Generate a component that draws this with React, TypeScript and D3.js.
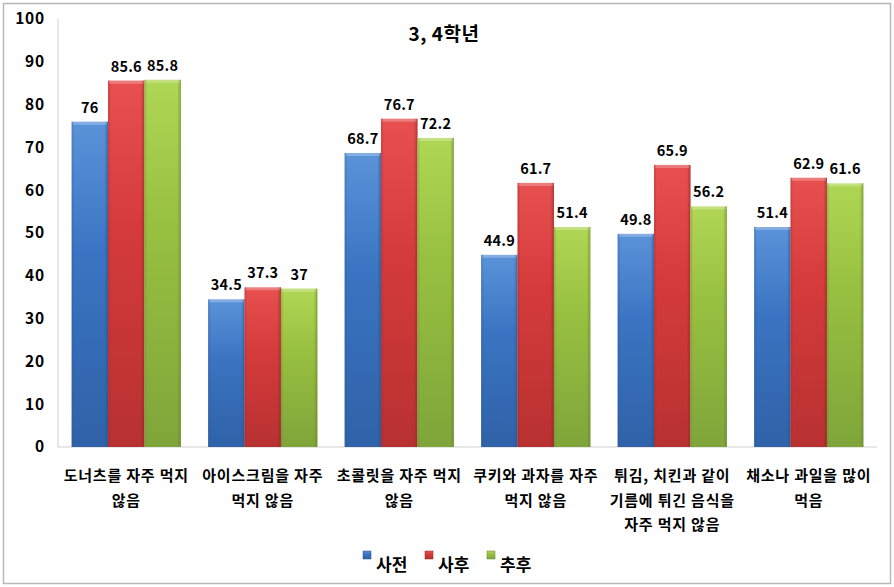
import React from "react";
import * as d3 from "d3";

const categories = [
  "도너츠를 자주 먹지\n않음",
  "아이스크림을 자주\n먹지 않음",
  "초콜릿을 자주 먹지\n않음",
  "쿠키와 과자를 자주\n먹지 않음",
  "튀김, 치킨과 같이\n기름에 튀긴 음식을\n자주 먹지 않음",
  "채소나 과일을 많이\n먹음",
];
const seriesNames = ["사전", "사후", "추후"];
const pre = [76, 34.5, 68.7, 44.9, 49.8, 51.4];
const post = [85.6, 37.3, 76.7, 61.7, 65.9, 62.9];
const follow = [85.8, 37, 72.2, 51.4, 56.2, 61.6];
const yTicks = [0, 10, 20, 30, 40, 50, 60, 70, 80, 90, 100];
const title = "3, 4학년";

const colors = [
  { top: "#5b93d9", mid: "#3b74c2", bot: "#2f62a8", edge: "#24518c" },
  { top: "#e85050", mid: "#d53b3b", bot: "#b83131", edge: "#8f2525" },
  { top: "#b0d655", mid: "#98c040", bot: "#7fa53a", edge: "#63822c" },
];

const W = 894, H = 587;
const left = 58, right = 877, top = 19, bottom = 447;
const FONT = "'Noto Sans CJK KR', 'Noto Sans', sans-serif";

export default function App() {
  const series = [pre, post, follow];
  const x0 = d3.scaleBand<number>().domain(d3.range(categories.length)).range([left, right]).paddingInner(0.2).paddingOuter(0.1);
  const x1 = d3.scaleBand<number>().domain([0, 1, 2]).range([0, x0.bandwidth()]);
  const y = d3.scaleLinear().domain([0, 100]).range([bottom, top]);

  return (
    <svg width={W} height={H} style={{ position: "absolute", left: 0, top: 0, background: "#fff" }} fontFamily={FONT}>
      <defs>
        {colors.map((c, i) => (
          <React.Fragment key={i}>
            <linearGradient id={`v${i}`} x1="0" y1="0" x2="0" y2="1">
              <stop offset="0" stopColor={c.top} />
              <stop offset="0.4" stopColor={c.mid} />
              <stop offset="1" stopColor={c.bot} />
            </linearGradient>
            <linearGradient id={`h${i}`} x1="0" y1="0" x2="1" y2="0">
              <stop offset="0" stopColor={c.edge} stopOpacity="0.35" />
              <stop offset="0.08" stopColor={c.edge} stopOpacity="0" />
              <stop offset="0.9" stopColor={c.edge} stopOpacity="0" />
              <stop offset="1" stopColor={c.edge} stopOpacity="0.6" />
            </linearGradient>
          </React.Fragment>
        ))}
      </defs>
      <rect x={3.5} y={3.5} width={887} height={580} fill="#fff" stroke="#b8b8b8" strokeWidth={1.5} />
      <text x={444} y={41} textAnchor="middle" fontSize={19} fontWeight={700} letterSpacing={0.5}>{title}</text>
      <line x1={left} x2={left} y1={top} y2={bottom} stroke="#d0d0d0" />
      <line x1={left} x2={right} y1={bottom} y2={bottom} stroke="#d0d0d0" />
      {yTicks.map((t) => (
        <text key={t} x={45} y={y(t)} dy="0.35em" textAnchor="end" fontSize={15.5} fontWeight={700} letterSpacing={0.8}>{t}</text>
      ))}
      {categories.map((cat, ci) => (
        <g key={ci} transform={`translate(${x0(ci)},0)`}>
          {series.map((s, si) => {
            const bx = x1(si)!;
            const bw = x1.bandwidth();
            const by = y(s[ci]);
            const bh = bottom - by;
            return (
              <g key={si}>
                <rect x={bx} y={by} width={bw} height={bh} fill={`url(#v${si})`} />
                <rect x={bx} y={by} width={bw} height={bh} fill={`url(#h${si})`} />
                <rect x={bx + 1} y={by} width={bw - 2} height={3} fill="#fff" opacity={0.25} rx={1} />
                <text x={bx + bw / 2} y={by - 9} textAnchor="middle" fontSize={14.5} fontWeight={700} letterSpacing={0.2}>{s[ci]}</text>
              </g>
            );
          })}
          {cat.split("\n").map((line, li) => (
            <text key={li} x={x0.bandwidth() / 2} y={481 + li * 24.5} textAnchor="middle" fontSize={15} fontWeight={700} letterSpacing={0.8}>{line}</text>
          ))}
        </g>
      ))}
      {seriesNames.map((n, i) => {
        const lx = 363 + i * 62;
        return (
          <g key={n}>
            <rect x={lx} y={551} width={8} height={8} fill={`url(#v${i})`} stroke={colors[i].edge} strokeWidth={0.5} />
            <text x={lx + 13} y={571} fontSize={17} fontWeight={700}>{n}</text>
          </g>
        );
      })}
    </svg>
  );
}
